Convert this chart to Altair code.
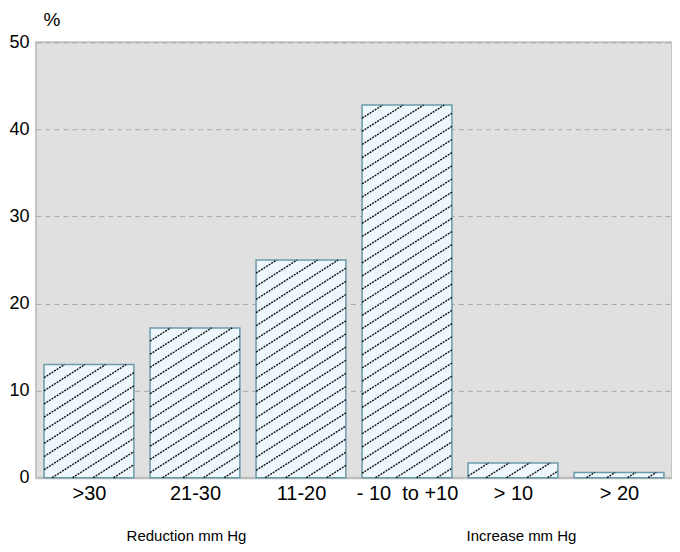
import altair as alt
import pandas as pd
import numpy as np

categories = [">30", "21-30", "11-20", "- 10\u00a0\u00a0to +10", "> 10", "> 20"]
values = [13.0, 17.2, 25.0, 42.8, 1.7, 0.6]
y_ticks = [0, 10, 20, 30, 40, 50]
group_labels = ["Reduction mm Hg", "Increase mm Hg"]
group_pos = [0.92, 4.08]

HALF = 0.4237      # half bar width in band units
SLOPE = 7.8        # hatch slope (y units per x unit)
SPACING = 1.51     # hatch vertical spacing (y units)

idx = list(range(len(categories)))
bars = pd.DataFrame({
    "i": idx,
    "cat": categories,
    "xl": [i - HALF for i in idx],
    "xr": [i + HALF for i in idx],
    "v": values,
})

segs = []
for i, v in zip(idx, values):
    xl, xr = i - HALF, i + HALF
    k = 1
    while True:
        c = v - k * SPACING
        if c <= -SLOPE * (xr - xl):
            break
        xs = max(xl, xl - c / SLOPE)
        xe = min(xr, xl + (v - c) / SLOPE)
        if xe > xs + 1e-6:
            segs.append({"x": xs, "y": c + SLOPE * (xs - xl),
                         "x2": xe, "y2": c + SLOPE * (xe - xl)})
        k += 1
hatch = pd.DataFrame(segs)

lab_expr = "[" + ",".join("'" + c + "'" for c in categories) + "][datum.value]"

xscale = alt.Scale(domain=[-0.5, len(categories) - 0.5], nice=False, zero=False)
yscale = alt.Scale(domain=[0, 50], nice=False)

FONT = "Liberation Sans"

base_bars = alt.Chart(bars).mark_rect(
    fill="#eef8fc", stroke="#6b9bab", strokeWidth=1.5
).encode(
    x=alt.X("xl:Q", scale=xscale,
            axis=alt.Axis(values=idx, labelExpr=lab_expr, title=None, ticks=False,
                          grid=False, domain=True, domainColor="#bdbdbd", domainWidth=2,
                          labelFontSize=20, labelColor="#000", labelFont=FONT,
                          labelPadding=6, labelBaseline="top")),
    x2="xr:Q",
    y=alt.Y("v:Q", scale=yscale,
            axis=alt.Axis(values=y_ticks, title="%", titleAngle=0, titleAlign="left",
                          titleBaseline="alphabetic", titleX=7, titleY=-17,
                          titleFontSize=19, titleFontWeight="normal", titleFont=FONT,
                          titleColor="#000",
                          ticks=False, domain=False, labelFontSize=18, labelColor="#000",
                          labelFont=FONT, labelPadding=7,
                          grid=True, gridColor="#a8a8a8", gridDash=[5, 4], gridWidth=1)),
    y2=alt.datum(0),
)

hatch_lines = alt.Chart(hatch).mark_rule(
    color="#111", strokeWidth=1.4, strokeDash=[2, 1]
).encode(
    x=alt.X("x:Q", scale=xscale),
    x2="x2:Q",
    y=alt.Y("y:Q", scale=yscale),
    y2="y2:Q",
)

ann = alt.Chart(pd.DataFrame({"t": group_labels, "p": group_pos})).mark_text(
    fontSize=15, font=FONT, color="#000", baseline="middle"
).encode(
    x=alt.X("p:Q", scale=xscale),
    y=alt.value(494),
    text="t:N",
)

chart = alt.layer(base_bars, hatch_lines, ann).properties(
    width=637, height=436,
    autosize=alt.AutoSizeParams(type="none"),
    padding={"left": 28, "top": 34, "right": 0, "bottom": 72},
).configure_view(
    fill="#e0e0e0", stroke="#c4c4c4", strokeWidth=2
)

chart.save("out.html", embed_options={"renderer": "svg", "actions": False})
